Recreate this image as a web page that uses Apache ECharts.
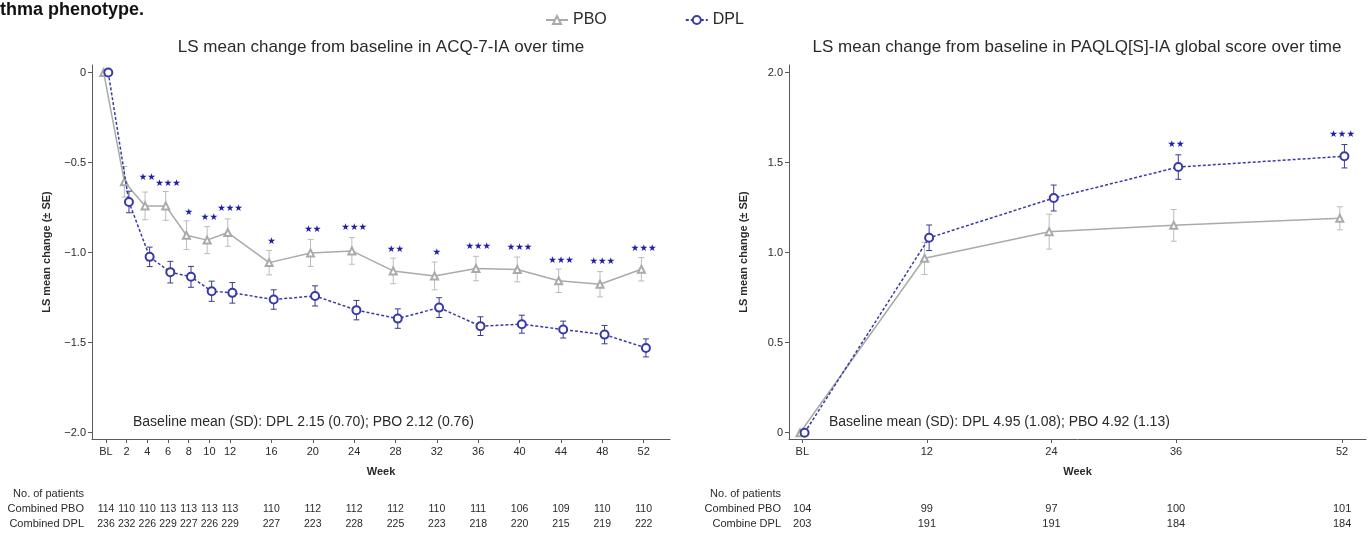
<!DOCTYPE html>
<html>
<head>
<meta charset="utf-8">
<script src="https://cdn.jsdelivr.net/npm/echarts/dist/echarts.min.js"></script>
<style>
html,body{margin:0;padding:0;background:#fff;}
#c{width:1372px;height:533px;}
</style>
</head>
<body>
<div id="c"></div>
<script>
// ---------- Data: left panel (ACQ-7-IA) ----------
const weeksA = [0, 2, 4, 6, 8, 10, 12, 16, 20, 24, 28, 32, 36, 40, 44, 48, 52];
const yTicksA = [0, -0.5, -1.0, -1.5, -2.0];
const pboA   = [0, -0.607, -0.741, -0.741, -0.904, -0.931, -0.889, -1.056, -1.002, -0.991, -1.102, -1.130, -1.089, -1.094, -1.157, -1.176, -1.093];
const pboSeA = [0, 0.085, 0.077, 0.080, 0.080, 0.075, 0.076, 0.068, 0.075, 0.074, 0.071, 0.077, 0.068, 0.069, 0.065, 0.070, 0.065];
const dplA   = [0, -0.719, -1.024, -1.109, -1.135, -1.215, -1.224, -1.261, -1.241, -1.320, -1.367, -1.306, -1.409, -1.398, -1.428, -1.456, -1.530];
const dplSeA = [0, 0.060, 0.054, 0.060, 0.058, 0.056, 0.057, 0.054, 0.056, 0.054, 0.054, 0.055, 0.052, 0.050, 0.047, 0.051, 0.050];
const starsA = ['', '', '**', '***', '*', '**', '***', '*', '**', '***', '**', '*', '***', '***', '***', '***', '***'];
const starYA = [null, null, -0.583, -0.617, -0.778, -0.806, -0.756, -0.937, -0.872, -0.863, -0.981, -1.002, -0.967, -0.974, -1.043, -1.052, -0.978];
const nPboA  = [114, 110, 110, 113, 113, 113, 113, 110, 112, 112, 112, 110, 111, 106, 109, 110, 110];
const nDplA  = [236, 232, 226, 229, 227, 226, 229, 227, 223, 228, 225, 223, 218, 220, 215, 219, 222];
const rowLabelsA = ['No. of patients', 'Combined PBO', 'Combined DPL'];

// ---------- Data: right panel (PAQLQ[S]-IA) ----------
const weeksB = [0, 12, 24, 36, 52];
const yTicksB = [0, 0.5, 1.0, 1.5, 2.0];
const pboB   = [0, 0.969, 1.117, 1.152, 1.191];
const pboSeB = [0, 0.090, 0.097, 0.088, 0.064];
const dplB   = [0, 1.083, 1.304, 1.476, 1.536];
const dplSeB = [0, 0.071, 0.072, 0.068, 0.065];
const starsB = ['', '', '', '**', '***'];
const starYB = [null, null, null, 1.602, 1.654];
const nPboB  = [104, 99, 97, 100, 101];
const nDplB  = [203, 191, 191, 184, 184];
const rowLabelsB = ['No. of patients', 'Combined PBO', 'Combine DPL'];

const titleA = 'LS mean change from baseline in ACQ-7-IA over time';
const titleB = 'LS mean change from baseline in PAQLQ[S]-IA global score over time';
const noteA = 'Baseline mean (SD): DPL 2.15 (0.70); PBO 2.12 (0.76)';
const noteB = 'Baseline mean (SD): DPL 4.95 (1.08); PBO 4.92 (1.13)';
const yName = 'LS mean change (± SE)';
const xName = 'Week';
const captionText = 'thma phenotype.';

// ---------- Styles ----------
const FONT = '"Liberation Sans", Arial, Helvetica, sans-serif';
const PBO_COLOR = '#a7aca8';
const PBO_ERR = '#b9bdb9';
const DPL_COLOR = '#3a3aa6';
const DPL_ERR = '#3b3b8e';
const STAR_COLOR = '#1f1fa6';
const AXIS_COLOR = '#5a5a5a';
const TEXT_COLOR = '#2a2a2a';
const OFF = 0.22; // small horizontal dodge between groups

const yRangeA = [-2.036, 0.042];
const yRangeB = [-0.035, 2.043];

function pts(weeks, vals, off) { return weeks.map((w, i) => [w + off, vals[i]]); }
function errs(weeks, vals, se, off) {
  return weeks.map((w, i) => [w + off, vals[i] - se[i], vals[i] + se[i]]).filter((d, i) => se[i] > 0);
}
function starData(weeks, stars, ys) {
  const out = [];
  weeks.forEach((w, i) => { if (stars[i]) out.push([w, ys[i], stars[i]]); });
  return out;
}
function errRender(color) {
  return function (params, api) {
    const x = api.value(0), lo = api.value(1), hi = api.value(2);
    const a = api.coord([x, hi]), b = api.coord([x, lo]);
    const w = 3;
    const st = { stroke: color, lineWidth: 1 };
    return { type: 'group', children: [
      { type: 'line', shape: { x1: a[0], y1: a[1], x2: b[0], y2: b[1] }, style: st },
      { type: 'line', shape: { x1: a[0] - w, y1: a[1], x2: a[0] + w, y2: a[1] }, style: st },
      { type: 'line', shape: { x1: b[0] - w, y1: b[1], x2: b[0] + w, y2: b[1] }, style: st }
    ]};
  };
}
function starRender(params, api) {
  const p = api.coord([api.value(0), api.value(1)]);
  const s = api.value(2);
  return { type: 'text', x: p[0], y: p[1], style: {
    text: String(s).replace(/\*/g, '★'), fill: STAR_COLOR, font: '9.5px "DejaVu Sans", sans-serif',
    align: 'center', verticalAlign: 'middle' } };
}
function countRender(yMin, fontSize) {
  return function (params, api) {
    const p = api.coord([api.value(0), yMin]);
    const f = fontSize + 'px ' + FONT;
    return { type: 'group', children: [
      { type: 'text', x: p[0], y: p[1] + 70, style: { text: String(api.value(1)), fill: TEXT_COLOR, font: f, align: 'center', verticalAlign: 'middle' } },
      { type: 'text', x: p[0], y: p[1] + 85, style: { text: String(api.value(2)), fill: TEXT_COLOR, font: f, align: 'center', verticalAlign: 'middle' } }
    ]};
  };
}
function fmtY(v) {
  if (Math.abs(v) < 1e-9) return '0';
  return v.toFixed(1).replace('-', '\u2212');
}

function xAxisCfg(grid, weeks, min, max, labelFn) {
  return {
    type: 'value', gridIndex: grid, min: min, max: max,
    axisLine: { show: true, onZero: false, lineStyle: { color: AXIS_COLOR, width: 1 } },
    axisTick: { show: true, customValues: weeks, length: 4, lineStyle: { color: AXIS_COLOR } },
    axisLabel: { customValues: weeks, formatter: labelFn, fontSize: 11, color: TEXT_COLOR, margin: 7, fontFamily: FONT },
    splitLine: { show: false },
    name: xName, nameLocation: 'middle', nameGap: 27,
    nameTextStyle: { fontWeight: 'bold', fontSize: 11, color: TEXT_COLOR, fontFamily: FONT }
  };
}
function yAxisCfg(grid, ticks, range) {
  return {
    type: 'value', gridIndex: grid, min: range[0], max: range[1],
    axisLine: { show: true, onZero: false, lineStyle: { color: AXIS_COLOR, width: 1 } },
    axisTick: { show: true, customValues: ticks, length: 4, lineStyle: { color: AXIS_COLOR } },
    axisLabel: { customValues: ticks, formatter: fmtY, fontSize: 11, color: TEXT_COLOR, margin: 6, fontFamily: FONT },
    splitLine: { show: false },
    name: yName, nameLocation: 'middle', nameGap: 40, nameRotate: 90,
    nameTextStyle: { fontWeight: 'bold', fontSize: 11, color: TEXT_COLOR, fontFamily: FONT }
  };
}
const xLabel = v => (v === 0 ? 'BL' : String(v));

const chart = echarts.init(document.getElementById('c'), null, { renderer: 'canvas' });

const option = {
  animation: false,
  backgroundColor: '#fff',
  textStyle: { fontFamily: FONT },
  legend: {
    data: ['PBO', 'DPL'], left: 540, top: 7, itemWidth: 22, itemHeight: 10, itemGap: 78,
    textStyle: { fontSize: 16, color: TEXT_COLOR, fontFamily: FONT }
  },
  grid: [
    { left: 92, top: 65, width: 578, height: 374 },
    { left: 789, top: 65, width: 577, height: 374 }
  ],
  xAxis: [
    xAxisCfg(0, weeksA, -1.354, 54.55, xLabel),
    xAxisCfg(1, weeksB, -1.28, 54.3, xLabel)
  ],
  yAxis: [
    yAxisCfg(0, yTicksA, yRangeA),
    yAxisCfg(1, yTicksB, yRangeB)
  ],
  series: [
    // left panel
    { type: 'custom', name: 'PBO err A', xAxisIndex: 0, yAxisIndex: 0, renderItem: errRender(PBO_ERR), data: errs(weeksA, pboA, pboSeA, -OFF), z: 2, silent: true },
    { type: 'line', name: 'PBO', xAxisIndex: 0, yAxisIndex: 0, data: pts(weeksA, pboA, -OFF),
      symbol: 'emptyTriangle', symbolSize: 7, lineStyle: { color: PBO_COLOR, width: 1.5 },
      itemStyle: { color: PBO_COLOR, borderColor: PBO_COLOR, borderWidth: 1 }, z: 3 },
    { type: 'custom', name: 'DPL err A', xAxisIndex: 0, yAxisIndex: 0, renderItem: errRender(DPL_ERR), data: errs(weeksA, dplA, dplSeA, OFF), z: 4, silent: true },
    { type: 'line', name: 'DPL', xAxisIndex: 0, yAxisIndex: 0, data: pts(weeksA, dplA, OFF),
      symbol: 'emptyCircle', symbolSize: 8, lineStyle: { color: DPL_COLOR, width: 1.5, type: [3, 2] },
      itemStyle: { color: DPL_COLOR, borderColor: DPL_COLOR, borderWidth: 1 }, z: 5 },
    { type: 'custom', name: 'stars A', xAxisIndex: 0, yAxisIndex: 0, renderItem: starRender, data: starData(weeksA, starsA, starYA), z: 6, silent: true },
    { type: 'custom', name: 'counts A', xAxisIndex: 0, yAxisIndex: 0, renderItem: countRender(yRangeA[0], 10.5),
      data: weeksA.map((w, i) => [w, nPboA[i], nDplA[i]]), clip: false, silent: true },
    // right panel
    { type: 'custom', name: 'PBO err B', xAxisIndex: 1, yAxisIndex: 1, renderItem: errRender(PBO_ERR), data: errs(weeksB, pboB, pboSeB, -OFF), z: 2, silent: true },
    { type: 'line', name: 'PBO', xAxisIndex: 1, yAxisIndex: 1, data: pts(weeksB, pboB, -OFF),
      symbol: 'emptyTriangle', symbolSize: 7, lineStyle: { color: PBO_COLOR, width: 1.5 },
      itemStyle: { color: PBO_COLOR, borderColor: PBO_COLOR, borderWidth: 1 }, z: 3 },
    { type: 'custom', name: 'DPL err B', xAxisIndex: 1, yAxisIndex: 1, renderItem: errRender(DPL_ERR), data: errs(weeksB, dplB, dplSeB, OFF), z: 4, silent: true },
    { type: 'line', name: 'DPL', xAxisIndex: 1, yAxisIndex: 1, data: pts(weeksB, dplB, OFF),
      symbol: 'emptyCircle', symbolSize: 8, lineStyle: { color: DPL_COLOR, width: 1.5, type: [3, 2] },
      itemStyle: { color: DPL_COLOR, borderColor: DPL_COLOR, borderWidth: 1 }, z: 5 },
    { type: 'custom', name: 'stars B', xAxisIndex: 1, yAxisIndex: 1, renderItem: starRender, data: starData(weeksB, starsB, starYB), z: 6, silent: true },
    { type: 'custom', name: 'counts B', xAxisIndex: 1, yAxisIndex: 1, renderItem: countRender(yRangeB[0], 11),
      data: weeksB.map((w, i) => [w, nPboB[i], nDplB[i]]), clip: false, silent: true }
  ],
  graphic: [
    { type: 'text', left: 0, top: 1, style: { text: captionText, font: 'bold 18px ' + FONT, fill: '#111' } },
    { type: 'text', x: 381, y: 47, style: { text: titleA, font: '17px ' + FONT, fill: TEXT_COLOR, align: 'center', verticalAlign: 'middle' } },
    { type: 'text', x: 1077, y: 47, style: { text: titleB, font: '17px ' + FONT, fill: TEXT_COLOR, align: 'center', verticalAlign: 'middle' } },
    { type: 'text', x: 133, y: 422, style: { text: noteA, font: '14px ' + FONT, fill: TEXT_COLOR, align: 'left', verticalAlign: 'middle' } },
    { type: 'text', x: 829, y: 422, style: { text: noteB, font: '14px ' + FONT, fill: TEXT_COLOR, align: 'left', verticalAlign: 'middle' } }
  ].concat(
    rowLabelsA.map((t, i) => ({ type: 'text', x: 84, y: [494, 509, 524][i], style: { text: t, font: '11px ' + FONT, fill: TEXT_COLOR, align: 'right', verticalAlign: 'middle' } })),
    rowLabelsB.map((t, i) => ({ type: 'text', x: 781, y: [494, 509, 524][i], style: { text: t, font: '11px ' + FONT, fill: TEXT_COLOR, align: 'right', verticalAlign: 'middle' } }))
  )
};
chart.setOption(option);
</script>
</body>
</html>
